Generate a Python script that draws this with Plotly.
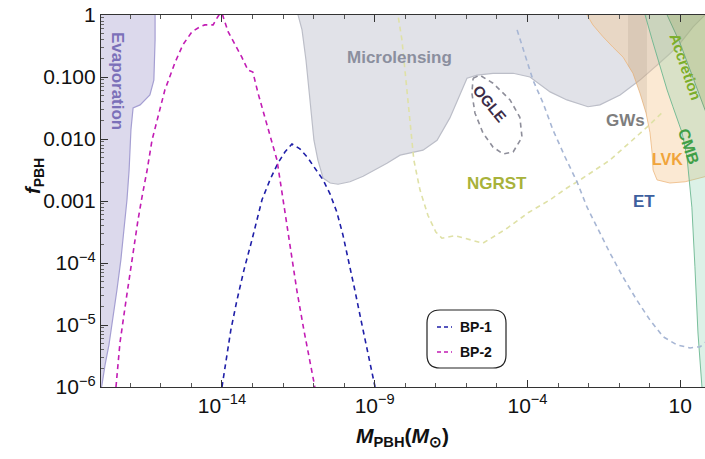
import plotly.graph_objects as go

# ---------------- data (log10 of M_PBH [M_sun], log10 of f_PBH) ----------------
# Hawking evaporation bound (upper edge)
evap_logM = [-16.19, -16.19, -16.23, -16.36, -16.68, -16.91, -16.98, -17.04, -17.11,
             -17.21, -17.31, -17.44, -17.57, -17.70, -17.83, -17.93, -18.1]
evap_logf = [0.1, -0.40, -1.05, -1.29, -1.45, -1.50, -1.85, -2.50, -2.98,
             -3.47, -3.95, -4.44, -4.92, -5.32, -5.65, -5.97, -6.3]

# Microlensing bound (lower edge)
micro_logM = [-11.51, -11.51, -11.38, -11.25, -11.12, -10.99, -10.86, -10.69, -10.46, -10.20,
              -9.81, -9.38, -8.60, -8.17, -7.42, -6.96, -6.54, -6.21, -5.98, -5.65,
              -5.13, -4.47, -3.92, -3.26, -2.71, -2.02, -1.63, -0.97, -0.32, 0.33,
              0.89, 1.42, 1.81, 2.1]
micro_logf = [0.1, 0.0, -0.24, -0.73, -1.37, -2.02, -2.34, -2.63, -2.71, -2.73,
              -2.69, -2.60, -2.39, -2.26, -2.18, -2.02, -1.66, -1.29, -1.02, -0.97,
              -0.94, -0.94, -1.00, -1.24, -1.37, -1.48, -1.45, -1.29, -1.05, -0.77,
              -0.52, -0.19, 0.0, 0.1]

# OGLE candidate region (closed contour)
ogle_logM = [-5.78, -5.56, -5.13, -4.57, -4.25, -4.18, -4.47, -4.80, -5.13, -5.46, -5.72, -5.82, -5.78]
ogle_logf = [-1.02, -0.97, -1.10, -1.37, -1.65, -1.97, -2.21, -2.24, -2.13, -1.90, -1.58, -1.26, -1.02]

# Nancy Grace Roman Space Telescope projected sensitivity
ngrst_logM = [-8.28, -8.24, -8.11, -7.98, -7.85, -7.72, -7.52, -7.26, -7.00, -6.80, -6.37,
              -5.88, -5.46, -5.06, -4.67, -3.98, -3.26, -2.71, -2.28, -1.30, -0.09, 0.44]
ngrst_logf = [0.1, 0.0, -0.40, -1.05, -1.69, -2.34, -2.82, -3.23, -3.50, -3.60, -3.56,
              -3.63, -3.68, -3.56, -3.44, -3.19, -2.98, -2.79, -2.66, -2.34, -1.81, -1.56]

# Einstein Telescope projected sensitivity
et_logM = [-4.34, -4.02, -3.82, -3.49, -3.17, -2.77, -2.38, -2.05, -1.63, -1.30,
           -0.87, -0.42, 0.01, 0.44, 0.89, 1.32, 1.65, 1.81, 2.0]
et_logf = [-0.24, -0.73, -1.05, -1.42, -1.85, -2.29, -2.69, -3.10, -3.52, -3.84,
           -4.23, -4.60, -4.92, -5.19, -5.32, -5.37, -5.35, -5.29, -5.15]

# LIGO-Virgo-KAGRA merger bound (left/lower edge)
lvk_logM = [-2.05, -2.05, -1.86, -1.53, -1.20, -0.87, -0.55, -0.32, -0.12, 0.01, 0.08,
            0.11, 0.24, 0.66, 1.16, 1.42, 1.81, 2.1]
lvk_logf = [0.1, 0.0, -0.16, -0.35, -0.52, -0.68, -0.94, -1.26, -1.58, -1.90, -2.23,
            -2.50, -2.66, -2.71, -2.69, -2.66, -2.61, -2.57]

# GW band overlapping the LVK region
gwband_logM = [-0.71, -0.71, -0.55, -0.32, -0.12, -0.09, -0.09]
gwband_logf = [0.1, -0.82, -0.94, -1.26, -1.58, -1.63, 0.1]

# CMB accretion bound (left edge)
cmb_logM = [-0.15, -0.15, 0.08, 0.34, 0.57, 0.76, 1.06, 1.22, 1.32, 1.38, 1.48, 1.58, 1.71, 1.75]
cmb_logf = [0.1, 0.0, -0.40, -0.84, -1.21, -1.48, -1.90, -2.29, -2.77, -3.10, -4.06, -5.13, -6.0, -6.3]

# Accretion (X-ray / radio) bound (left edge)
accr_logM = [0.57, 0.57, 0.99, 1.42, 1.81, 2.04]
accr_logf = [0.1, 0.0, -0.45, -1.0, -1.53, -1.77]

# Benchmark PBH mass functions
bp1_logM = [-14.00, -13.87, -13.71, -13.51, -13.28, -13.02, -12.69, -12.43, -12.17, -11.94,
            -11.71, -11.45, -11.18, -10.96, -10.69, -10.46, -10.24, -10.04, -9.84, -9.65,
            -9.45, -9.25, -9.06, -8.99]
bp1_logf = [-6.0, -5.56, -5.08, -4.60, -4.11, -3.63, -2.98, -2.66, -2.39, -2.21,
            -2.08, -2.16, -2.31, -2.47, -2.66, -2.89, -3.18, -3.55, -3.98, -4.44,
            -4.92, -5.40, -5.85, -6.0]

bp2_logM = [-17.47, -17.34, -17.14, -16.91, -16.75, -16.62, -16.45, -16.29, -16.09, -15.87,
            -15.54, -15.28, -14.98, -14.72, -14.56, -14.29, -14.20, -14.10, -14.00, -13.80,
            -13.57, -13.35, -13.15, -12.99, -12.82, -12.66, -12.49, -12.33, -12.20, -12.00,
            -11.77, -11.55, -11.32, -11.12, -10.96]
bp2_logf = [-6.0, -5.29, -4.60, -3.79, -3.31, -2.94, -2.50, -2.02, -1.61, -1.21,
            -0.77, -0.48, -0.27, -0.19, -0.16, -0.16, -0.08, 0.0, 0.03, -0.27,
            -0.48, -0.68, -0.89, -0.92, -1.26, -1.53, -1.81, -2.10, -2.34, -2.98,
            -3.71, -4.44, -5.08, -5.56, -6.0]

x_tickvals = [1e-14, 1e-9, 1e-4, 10]
x_ticktext = ["10<sup>−14</sup>", "10<sup>−9</sup>", "10<sup>−4</sup>", "10"]
y_tickvals = [1, 0.1, 0.01, 0.001, 1e-4, 1e-5, 1e-6]
y_ticktext = ["1", "0.100", "0.010", "0.001", "10<sup>−4</sup>", "10<sup>−5</sup>", "10<sup>−6</sup>"]

# ---------------- figure ----------------
W, H = 705, 459
L, R, T, B = 101, 0, 15, 72
XR = [-17.96, 1.81]
YR = [-6.0, 0.0]
FONT = "Liberation Sans, Arial, sans-serif"

def pw(v):
    return [10.0 ** a for a in v]

LEFT_EDGE, RIGHT_EDGE, TOP_EDGE, BOTTOM_EDGE = -19.0, 3.0, 0.5, -7.0

fig = go.Figure()

def region(lx, ly, close_x, close_y, fill, edge, ew=1.0):
    xs = pw(list(lx) + close_x)
    ys = pw(list(ly) + close_y)
    fig.add_trace(go.Scatter(x=xs, y=ys, mode="lines", fill="toself", fillcolor=fill,
                             line=dict(color="rgba(0,0,0,0)", width=0),
                             hoverinfo="skip", showlegend=False))
    fig.add_trace(go.Scatter(x=pw(lx), y=pw(ly), mode="lines",
                             line=dict(color=edge, width=ew),
                             hoverinfo="skip", showlegend=False))

region(evap_logM, evap_logf, [LEFT_EDGE, LEFT_EDGE], [BOTTOM_EDGE, TOP_EDGE],
       "#dcd9ec", "#a59fd2", 1.2)
region(micro_logM, micro_logf, [RIGHT_EDGE, micro_logM[0]], [TOP_EDGE, TOP_EDGE],
       "#e1e2e8", "#bcbec8", 1.2)
region(lvk_logM, lvk_logf, [RIGHT_EDGE, RIGHT_EDGE], [lvk_logf[-1], TOP_EDGE],
       "rgba(244,196,140,0.38)", "rgba(236,180,120,0.75)", 1.0)
fig.add_trace(go.Scatter(x=pw(gwband_logM), y=pw(gwband_logf), mode="lines", fill="toself",
                         fillcolor="rgba(150,130,110,0.16)", line=dict(width=0),
                         hoverinfo="skip", showlegend=False))
region(cmb_logM, cmb_logf, [RIGHT_EDGE, RIGHT_EDGE], [BOTTOM_EDGE, TOP_EDGE],
       "rgba(130,205,170,0.28)", "rgba(100,180,140,0.85)", 1.0)
region(accr_logM, accr_logf, [RIGHT_EDGE, RIGHT_EDGE], [accr_logf[-1], TOP_EDGE],
       "rgba(130,155,70,0.22)", "rgba(100,160,120,0.8)", 1.0)

DASH = "5px,4px"
for lx, ly, col in [(ogle_logM, ogle_logf, "#8e8e9a"),
                    (ngrst_logM, ngrst_logf, "#dfe1a6"),
                    (et_logM, et_logf, "#a7b6d4")]:
    fig.add_trace(go.Scatter(x=pw(lx), y=pw(ly), mode="lines",
                             line=dict(color=col, width=1.6, dash=DASH),
                             hoverinfo="skip", showlegend=False))

BP1_COL, BP2_COL = "#1f1fa8", "#c21cb4"
fig.add_trace(go.Scatter(x=pw(bp1_logM), y=pw(bp1_logf), mode="lines", name="BP-1",
                         line=dict(color=BP1_COL, width=1.6, dash=DASH), showlegend=False))
fig.add_trace(go.Scatter(x=pw(bp2_logM), y=pw(bp2_logf), mode="lines", name="BP-2",
                         line=dict(color=BP2_COL, width=1.6, dash=DASH), showlegend=False))

# ---------------- text ----------------
pwid, phei = W - L - R, H - T - B

def px(x):
    return (x - L) / pwid

def py(y):
    return (H - B - y) / phei

def label(text, x, y, color, size=17, angle=0, bold=True, xanchor="center"):
    fig.add_annotation(x=px(x), y=py(y), xref="paper", yref="paper",
                       xanchor=xanchor, yanchor="middle",
                       text=f"<b>{text}</b>" if bold else text, showarrow=False,
                       textangle=angle, font=dict(family=FONT, size=size, color=color))

label("Evaporation", 117, 81, "#7b70b9", 17, 90)
label("Microlensing", 399, 57, "#8b8f9e", 17)
label("OGLE", 490, 103, "#3b2b47", 15, 50)
label("NGRST", 497, 183, "#a8b23a", 17)
label("GWs", 625, 121, "#7e7e7e", 17)
label("LVK", 667, 159, "#f0a43a", 16)
label("ET", 644, 201, "#3d5f9e", 17)
label("Accretion", 686, 66, "#7cae2a", 15, 71)
label("CMB", 689, 146, "#3f9f47", 16, 72)

# axis titles
label("<i>M</i><sub>PBH</sub>(<i>M</i><sub>⊙</sub>)", 402, 437, "#111111", 21)
label("<i>f</i><sub>PBH</sub>", 35, 176, "#111111", 20, -90)

# legend box with rounded corners
bx0, by0, bx1, by1, rad = 427, 310, 506, 368, 13

def rounded(x0, y0, x1, y1, r):
    rx, ry = r / pwid, r / phei
    X0, X1, Y0, Y1 = px(x0), px(x1), py(y1), py(y0)
    return (f"M {X0+rx},{Y0} L {X1-rx},{Y0} Q {X1},{Y0} {X1},{Y0+ry} "
            f"L {X1},{Y1-ry} Q {X1},{Y1} {X1-rx},{Y1} L {X0+rx},{Y1} "
            f"Q {X0},{Y1} {X0},{Y1-ry} L {X0},{Y0+ry} Q {X0},{Y0} {X0+rx},{Y0} Z")

fig.add_shape(type="path", path=rounded(bx0, by0, bx1, by1, rad), xref="paper", yref="paper",
              line=dict(color="#222222", width=1.2), fillcolor="rgba(255,255,255,0)")
for name, col, yy in [("BP-1", BP1_COL, 327), ("BP-2", BP2_COL, 352)]:
    fig.add_shape(type="line", xref="paper", yref="paper", x0=px(437), x1=px(452),
                  y0=py(yy), y1=py(yy), line=dict(color=col, width=1.4, dash="4px,3px"))
    label(name, 458, yy, "#111111", 14, xanchor="left")

# ---------------- axes ----------------
x_minor = [10.0 ** k for k in range(-18, 3)]
y_minor = [m * 10.0 ** k for k in range(-6, 0) for m in range(2, 10)]

fig.update_xaxes(type="log", range=XR, tickvals=x_tickvals, ticktext=x_ticktext,
                 ticks="inside", ticklen=7, tickwidth=1, tickcolor="#333333",
                 showline=True, linecolor="#333333", linewidth=1.2, mirror="allticks",
                 showgrid=False, zeroline=False,
                 tickfont=dict(family=FONT, size=21, color="#111111"),
                 minor=dict(tickvals=x_minor, ticks="inside", ticklen=4, tickcolor="#555555",
                            showgrid=False))
fig.update_yaxes(type="log", range=YR, tickvals=y_tickvals, ticktext=y_ticktext,
                 ticks="inside", ticklen=7, tickwidth=1, tickcolor="#333333",
                 showline=True, linecolor="#333333", linewidth=1.2, mirror=False,
                 showgrid=False, zeroline=False,
                 tickfont=dict(family=FONT, size=21, color="#111111"),
                 minor=dict(tickvals=y_minor, ticks="inside", ticklen=3, tickcolor="#666666",
                            showgrid=False))

fig.update_layout(width=W, height=H, margin=dict(l=L, r=R, t=T, b=B),
                  paper_bgcolor="white", plot_bgcolor="white", showlegend=False,
                  font=dict(family=FONT, color="#111111"))

fig.write_html("out.html")
